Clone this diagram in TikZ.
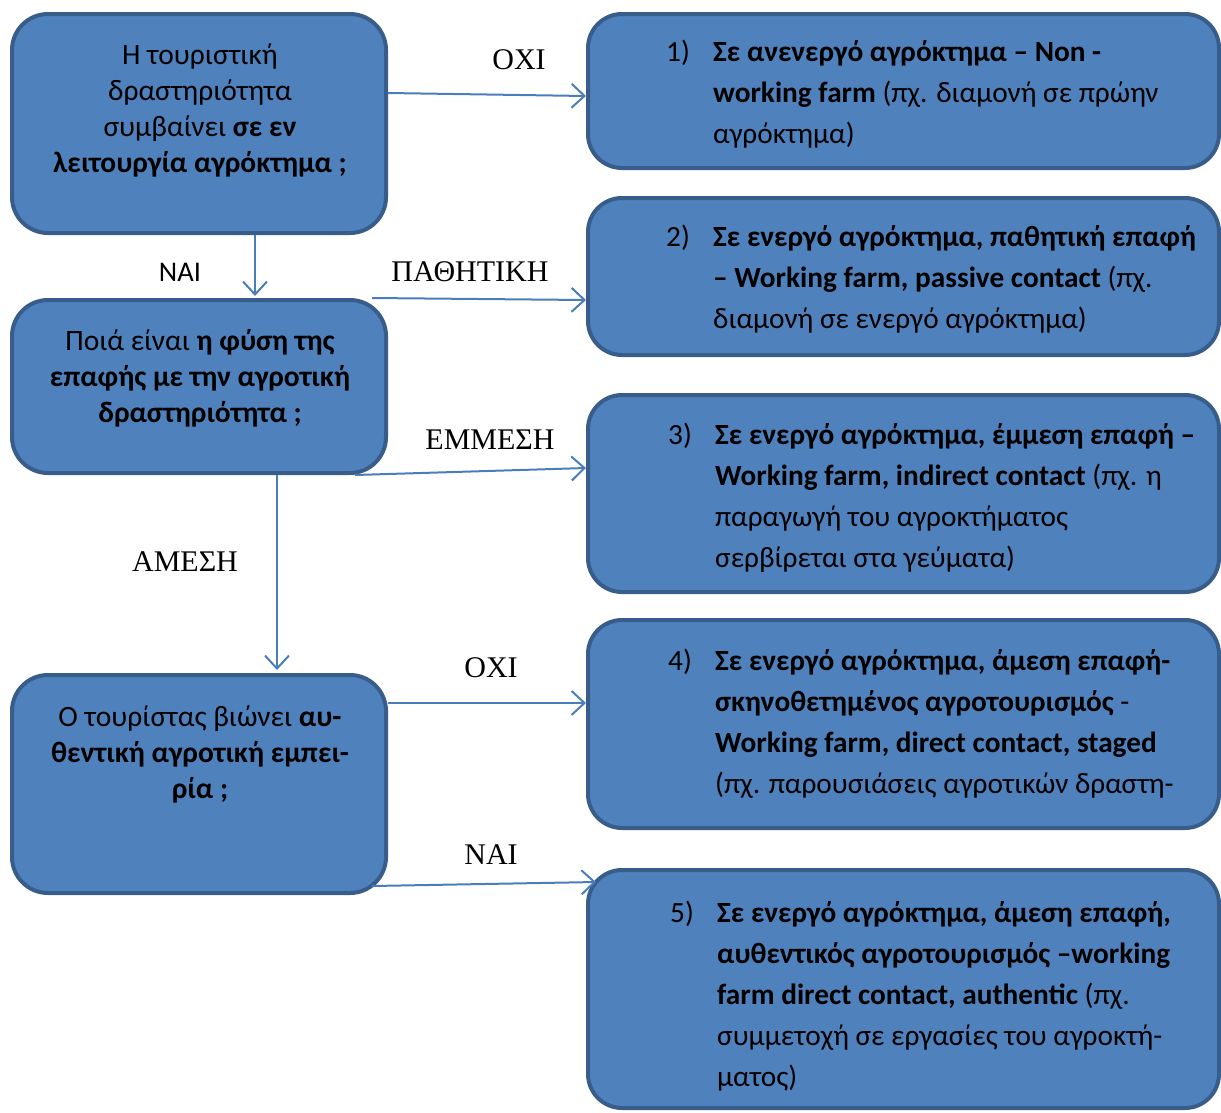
\documentclass[tikz,border=0pt]{standalone}
\usepackage{fontspec}
\setmainfont{Carlito}
\newfontfamily\seriffont{Liberation Serif}
\usetikzlibrary{arrows.meta}
\definecolor{boxfill}{HTML}{4F81BD}
\definecolor{boxline}{HTML}{385D8A}
\definecolor{arrowcol}{HTML}{4A7EBB}
\newcommand\tstr{\rule{0pt}{21pt}}
\newcommand\nb[1]{\makebox[47pt][l]{#1}}
\newcommand\ind{\hspace*{47pt}}
\begin{document}
\begin{tikzpicture}[x=1pt,y=-1pt,
  box/.style={draw=boxline,fill=boxfill,line width=4pt,rounded corners=36pt,inner sep=0pt},
  leftbox/.style={box,minimum width=374pt},
  rightbox/.style={box,minimum width=631pt,rounded corners=34pt},
  ctext/.style={inner sep=0pt,align=center,anchor=north,font=\fontsize{29.5}{36}\selectfont},
  rtext/.style={inner sep=0pt,align=left,anchor=north west,font=\fontsize{29.3}{41}\selectfont},
  lab/.style={inner sep=0pt,font=\seriffont\fontsize{30}{32}\selectfont},
  slab/.style={inner sep=0pt,font=\fontsize{28.5}{32}\selectfont},
  conn/.style={draw=arrowcol,line width=2pt,-{Straight Barb[length=13pt,width=24pt,line width=2pt]}}]
\useasboundingbox (0,0) rectangle (1221,1112);
% left boxes
\node[leftbox,minimum height=219pt] (A) at (199,123.5) {};
\node[leftbox,minimum height=173pt] (B) at (199,386.5) {};
\node[leftbox,minimum height=218pt] (C) at (199,784) {};
% right boxes
\node[rightbox,minimum height=154pt] (b1) at (903.5,91) {};
\node[rightbox,minimum height=157pt] (b2) at (903.5,276.5) {};
\node[rightbox,minimum height=197pt] (b3) at (903.5,493.5) {};
\node[rightbox,minimum height=208pt] (b4) at (903.5,724) {};
\node[rightbox,minimum height=238pt] (b5) at (903.5,989) {};
% left texts
\node[ctext] (tA) at (200,43) {\tstr Η τουριστική\\δραστηριότητα\\συμβαίνει \textbf{σε εν}\\\textbf{λειτουργία αγρόκτημα ;}};
\node[ctext] (tB) at (200,329) {\tstr Ποιά είναι \textbf{η φύση της}\\\textbf{επαφής με την αγροτική}\\\textbf{δραστηριότητα ;}};
\node[ctext] (tC) at (200,705) {\tstr Ο τουρίστας βιώνει \textbf{αυ-}\\\textbf{θεντική αγροτική εμπει-}\\\textbf{ρία ;}};
% right texts
\node[rtext] (t1) at (666,40) {\tstr\nb{1)}\textbf{Σε ανενεργό αγρόκτημα – Non -}\\\ind\textbf{working farm} (πχ. διαμονή σε πρώην\\\ind αγρόκτημα)};
\node[rtext] (t2) at (666,225) {\tstr\nb{2)}\textbf{Σε ενεργό αγρόκτημα, παθητική επαφή}\\\ind\textbf{– Working farm, passive contact} (πχ.\\\ind διαμονή σε ενεργό αγρόκτημα)};
\node[rtext] (t3) at (668,423) {\tstr\nb{3)}\textbf{Σε ενεργό αγρόκτημα, έμμεση επαφή –}\\\ind\textbf{Working farm, indirect contact} (πχ. η\\\ind παραγωγή του αγροκτήματος\\\ind σερβίρεται στα γεύματα)};
\node[rtext] (t4) at (668,649) {\tstr\nb{4)}\textbf{Σε ενεργό αγρόκτημα, άμεση επαφή-}\\\ind\textbf{σκηνοθετημένος αγροτουρισμός} -\\\ind\textbf{Working farm, direct contact, staged}\\\ind(πχ. παρουσιάσεις αγροτικών δραστη-};
\node[rtext] (t5) at (670,901) {\tstr\nb{5)}\textbf{Σε ενεργό αγρόκτημα, άμεση επαφή,}\\\ind\textbf{αυθεντικός αγροτουρισμός –working}\\\ind\textbf{farm direct contact, authentic} (πχ.\\\ind συμμετοχή σε εργασίες του αγροκτή-\\\ind ματος)};
% connectors
\draw[conn] ([yshift=30.5pt]A.east) -- ([yshift=-5pt]b1.west);
\draw[conn] ([xshift=56pt]A.south) -- ([xshift=56pt,yshift=2pt]B.north);
\draw[conn] ([xshift=173pt]B.north) -- ([yshift=-23.5pt]b2.west);
\draw[conn] ([xshift=156pt]B.south) -- ([yshift=25.5pt]b3.west);
\draw[conn] ([xshift=78pt]B.south) -- ([xshift=78pt,yshift=3pt]C.north);
\draw[conn] ([yshift=81pt]C.east) -- ([yshift=21pt]b4.west);
\draw[conn] ([xshift=173pt,yshift=9pt]C.south) -- ([xshift=10pt,yshift=-14pt]b5.north west);
% labels
\node[lab] (l1) at (519,60) {ΟΧΙ};
\node[slab] (l2) at (180,272) {ΝΑΙ};
\node[lab] (l3) at (470,272) {ΠΑΘΗΤΙΚΗ};
\node[lab] (l4) at (490,440) {ΕΜΜΕΣΗ};
\node[lab] (l5) at (185,562) {ΑΜΕΣΗ};
\node[lab] (l6) at (491,668) {ΟΧΙ};
\node[lab] (l7) at (491,855) {ΝΑΙ};
\end{tikzpicture}
\end{document}
